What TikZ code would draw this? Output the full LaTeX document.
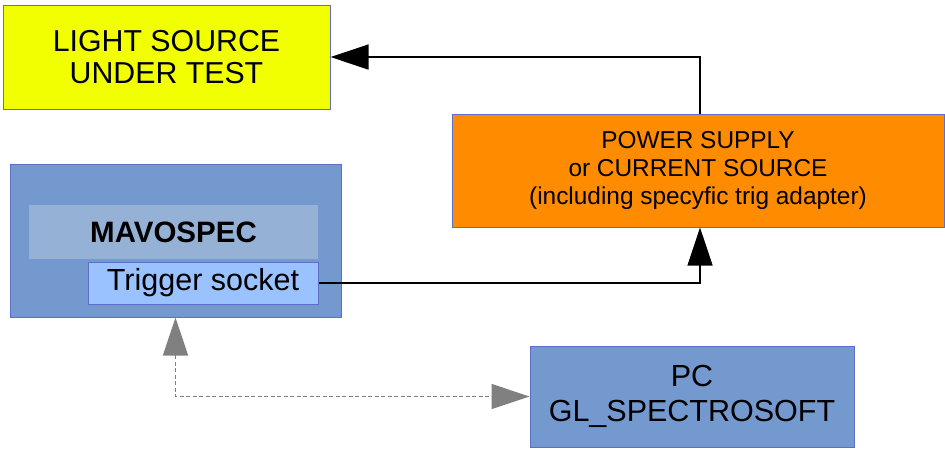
\documentclass[tikz,border=0pt]{standalone}
\usepackage{fontspec}
\setmainfont{Liberation Sans}
\usetikzlibrary{arrows.meta}
\definecolor{bordblue}{RGB}{95,110,200}
\definecolor{lightyellow}{RGB}{242,255,0}
\definecolor{psorange}{RGB}{255,140,0}
\definecolor{midblue}{RGB}{116,153,207}
\definecolor{bandblue}{RGB}{149,178,214}
\definecolor{sockblue}{RGB}{153,194,255}
\definecolor{arrgray}{RGB}{128,128,128}
\tikzset{
  box/.style={draw=bordblue, line width=1pt, rectangle, inner sep=0pt, align=center, text=black},
  band/.style={rectangle, inner sep=0pt, fill=bandblue, align=center},
  blackarr/.style={draw=black, line width=1.3pt, -{Triangle[length=38pt,width=25pt]}},
  grayarr/.style={draw=arrgray, line width=1.4pt, dash pattern=on 4pt off 2.5pt, {Triangle[length=38pt,width=25pt]}-{Triangle[length=38pt,width=25pt]}},
}
\begin{document}
\begin{tikzpicture}[x=1pt,y=-1pt]
\useasboundingbox (0,0) rectangle (945,451);
\node[box, fill=lightyellow, minimum width=327pt, minimum height=104pt, font=\fontsize{30.3}{31.5}\selectfont] (light) at (166.5,57) {LIGHT SOURCE\\UNDER TEST};
\node[box, fill=psorange, minimum width=492pt, minimum height=113pt, font=\fontsize{24.4}{28}\selectfont] (ps) at (698,170.5) {POWER SUPPLY\\or CURRENT SOURCE\\(including specyfic trig adapter)};
\node[box, fill=midblue, minimum width=331pt, minimum height=153pt] (mav) at (175.5,240.5) {};
\node[band, minimum width=289pt, minimum height=54pt, font=\fontsize{29.5}{31}\selectfont\bfseries] (head) at (173.5,232) {MAVOSPEC};
\node[box, fill=sockblue, minimum width=230pt, minimum height=42pt, font=\fontsize{30.5}{31}\selectfont] (trig) at (203,283) {Trigger socket};
\node[box, fill=midblue, minimum width=324pt, minimum height=101pt, font=\fontsize{30.5}{35}\selectfont] (pc) at (692,396.5) {PC\\GL\_SPECTROSOFT};
\draw[blackarr] ([xshift=2pt]ps.north) |- (light.east);
\draw[blackarr] (trig.east) -| ([xshift=2pt]ps.south);
\draw[grayarr] (mav.south) |- (pc.west);
\end{tikzpicture}
\end{document}
